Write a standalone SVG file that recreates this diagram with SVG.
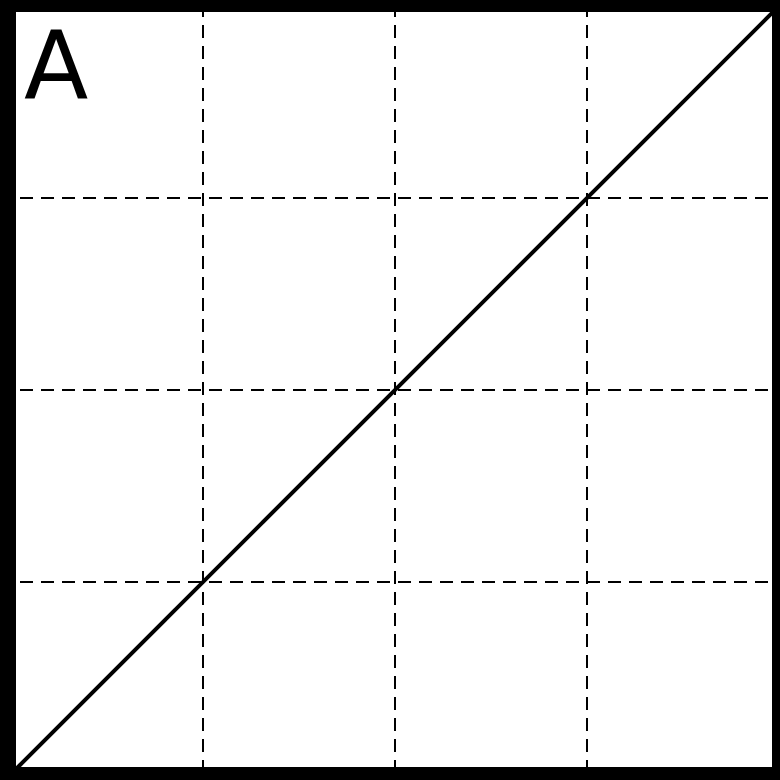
<svg xmlns="http://www.w3.org/2000/svg" width="780" height="780" viewBox="0 0 780 780">
<style>
.grid{stroke:#000;stroke-width:2;stroke-dasharray:13 8;fill:none}
.diag{stroke:#000;stroke-width:4;fill:none}
.lbl{font-family:"DejaVu Sans",sans-serif;font-size:94px;fill:#000}
</style>
<rect x="0" y="0" width="780" height="780" fill="#000"/>
<rect x="16" y="12" width="756" height="755" fill="#fff"/>
<g id="grid">
<line class="grid" x1="203" y1="4" x2="203" y2="767"/>
<line class="grid" x1="395" y1="4" x2="395" y2="767"/>
<line class="grid" x1="587" y1="4" x2="587" y2="767"/>
<line class="grid" x1="-1" y1="198" x2="772" y2="198"/>
<line class="grid" x1="-1" y1="390" x2="772" y2="390"/>
<line class="grid" x1="-1" y1="582" x2="772" y2="582"/>
</g>
<line class="diag" x1="11" y1="774" x2="779" y2="6"/>
<path d="M0,0H780V780H0Z M16,12V767H772V12Z" fill="#000" fill-rule="evenodd"/>
<text class="lbl" x="24" y="99">A</text>
</svg>
